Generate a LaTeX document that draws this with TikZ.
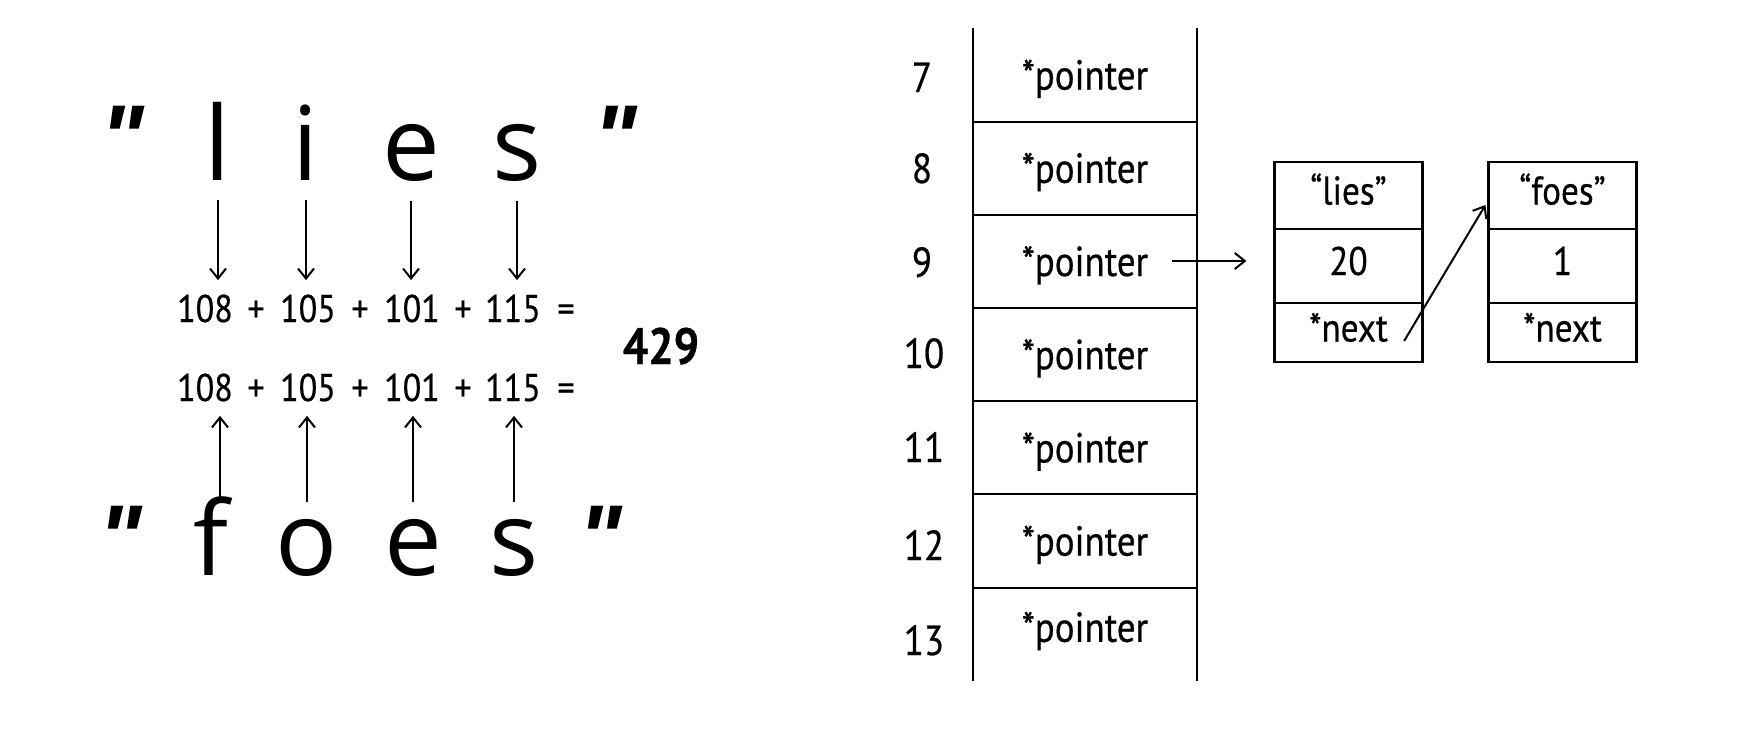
\documentclass[tikz,border=0pt]{standalone}
\usepackage{fontspec}
\setmainfont{PT Sans}[FakeStretch=0.88,FakeBold=0.5]
\newfontfamily\bigfont{Open Sans}
\newfontfamily\qfont{Liberation Sans}
\usetikzlibrary{arrows.meta}
\begin{document}
\begin{tikzpicture}[x=0.5pt,y=-0.5pt,
  arr/.style={line width=1pt, -{Straight Barb[length=5pt,width=8pt]}},
  bigletter/.style={font=\bigfont\fontsize{51.5}{56}\selectfont, inner sep=0pt, anchor=base},
  bigquote/.style={font=\qfont\bfseries\itshape\fontsize{46}{50}\selectfont, inner sep=0pt, anchor=base},
  num/.style={font=\fontsize{19.3}{22}\selectfont, inner xsep=0pt, inner ysep=7pt, anchor=base},
  cell/.style={font=\fontsize{21}{24}\selectfont, minimum width=112pt, minimum height=46.6pt, inner sep=0pt, text height=20pt, text depth=5pt},
  rownum/.style={font=\fontsize{21}{24}\selectfont, inner sep=0pt, anchor=base},
  boxcell/.style={draw, line width=1.1pt, font=\fontsize{20}{24}\selectfont, minimum width=74pt, inner sep=0pt, text height=14pt, text depth=5pt},
  tbl/.style={line width=1pt}
]
\useasboundingbox (0,0) rectangle (1758,740);

% big quotes
\node[bigquote] (q1) at (122,169) {"};
\node[bigquote] (q2) at (615,169) {"};
\node[bigquote] (q3) at (120,569) {"};
\node[bigquote] (q4) at (600,569) {"};

% lies
\node[bigletter, inner ysep=10pt] (l1) at (218,180) {l};
\node[bigletter, inner ysep=10pt] (l2) at (306,180) {i};
\node[bigletter, inner ysep=10pt] (l3) at (411,180) {e};
\node[bigletter, inner ysep=10pt] (l4) at (517,180) {s};

% foes
\node[bigletter, text height=36.5pt] (f1) at (211,575) {f};
\node[bigletter, text height=36.5pt] (f2) at (307,575) {o};
\node[bigletter, text height=36.5pt] (f3) at (413,575) {e};
\node[bigletter, text height=36.5pt] (f4) at (514,575) {s};

% sums
\node[num] (a1) at (205,322) {108};
\node[num] (a2) at (256,322) {+};
\node[num] (a3) at (308,322) {105};
\node[num] (a4) at (360,322) {+};
\node[num] (a5) at (412,322) {101};
\node[num] (a6) at (463,322) {+};
\node[num] (a7) at (513,322) {115};
\node[num] (a8) at (566,322) {=};

\node[num] (b1) at (205,401) {108};
\node[num] (b2) at (256,401) {+};
\node[num] (b3) at (308,401) {105};
\node[num] (b4) at (360,401) {+};
\node[num] (b5) at (412,401) {101};
\node[num] (b6) at (463,401) {+};
\node[num] (b7) at (513,401) {115};
\node[num] (b8) at (566,401) {=};

\node[font=\bfseries\fontsize{25.5}{30}\selectfont, inner sep=0pt, anchor=base] (sum) at (661,364) {429};

\foreach \s in {1,2,3,4}{
  \draw[arr] (l\s) -- (l\s |- a1.north);
}
\draw[arr] ([xshift=4.5pt]f1.north) -- ([xshift=4.5pt]f1.north |- b1.south);
\foreach \s in {2,3,4}{
  \draw[arr] (f\s) -- (f\s |- b1.south);
}

% table
\node[cell] (r7) at (1085,74.6) {*pointer};
\node[cell] (r8) at (1085,167.8) {*pointer};
\node[cell] (r9) at (1085,261) {*pointer};
\node[cell] (r10) at (1085,354.2) {*pointer};
\node[cell] (r11) at (1085,447.4) {*pointer};
\node[cell] (r12) at (1085,540.6) {*pointer};
\node[cell, text height=13pt] (r13) at (1085,633.8) {*pointer};

\draw[tbl] (r7.north west) -- (r13.south west);
\draw[tbl] (r7.north east) -- (r13.south east);
\foreach \r in {7,...,12}{
  \draw[tbl] (r\r.south west) -- (r\r.south east);
}

\node[rownum] (k7) at (922,92) {7};
\node[rownum] (k8) at (922,183) {8};
\node[rownum] (k9) at (922,277) {9};
\node[rownum] (k10) at (924,368) {10};
\node[rownum] (k11) at (924,462) {11};
\node[rownum] (k12) at (924,560) {12};
\node[rownum] (k13) at (924,655) {13};

% linked boxes
\node[boxcell, minimum height=33.5pt] (L1) at (1348.5,195.5) {“lies”};
\node[boxcell, minimum height=37pt] (L2) at (1348.5,266) {20};
\node[boxcell, minimum height=29.5pt] (L3) at (1348.5,332.5) {*next};

\node[boxcell, minimum height=33.5pt] (F1) at (1562.5,195.5) {“foes”};
\node[boxcell, minimum height=37pt] (F2) at (1562.5,266) {1};
\node[boxcell, minimum height=29.5pt] (F3) at (1562.5,332.5) {*next};

\draw[arr, shorten >=13.5pt] ([xshift=-12.5pt]r9.east) -- (r9.east -| L2.west);
\draw[arr] ([shift={(-19.5,8.5)}]L3.east) -- ([shift={(-2,9.5)}]F1.west);
\end{tikzpicture}
\end{document}
